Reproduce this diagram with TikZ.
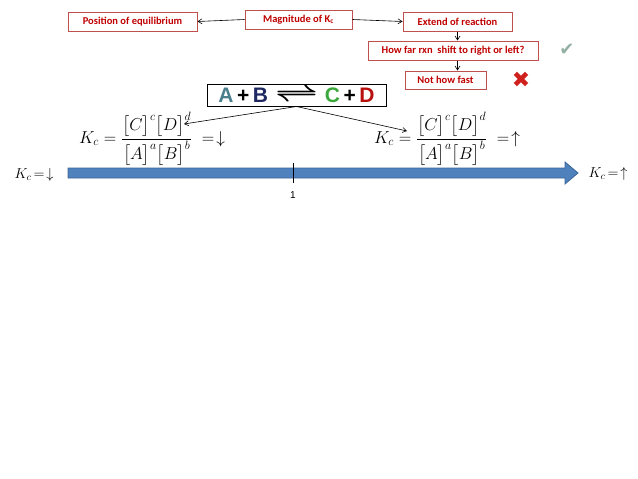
\documentclass[tikz,border=0pt]{standalone}
\usepackage{fontspec}
\usepackage{amsmath}
\usepackage{graphicx}
\usepackage{xcolor}
\usepackage{tikz}
\usetikzlibrary{arrows.meta, positioning, calc}
\newfontfamily\boxfont{Carlito}
\newfontfamily\rxnfont{Liberation Sans}
\newfontfamily\symfont{DejaVu Sans}
\definecolor{boxRed}{HTML}{C0504D}
\definecolor{textRed}{HTML}{C00000}
\definecolor{spA}{HTML}{4A7E8C}
\definecolor{spB}{HTML}{1F2860}
\definecolor{spC}{HTML}{3CA83C}
\definecolor{spD}{HTML}{B80F0F}
\definecolor{axisBlue}{HTML}{4F81BD}
\definecolor{axisEdge}{HTML}{3A6597}
\definecolor{checkGray}{HTML}{93B0A4}
\definecolor{crossRed}{HTML}{D0201E}

\begin{document}
\begin{tikzpicture}[
    x=1pt, y=-1pt,
    infobox/.style={draw=boxRed, line width=1pt, fill=white, minimum height=19pt, inner sep=1pt,
        font=\boxfont\bfseries\fontsize{10.5}{12}\selectfont, text=textRed},
    arrow/.style={-{Straight Barb[length=4pt, width=5pt]}, line width=0.6pt},
    formula/.style={inner sep=0pt, font=\LARGE},
]
    \useasboundingbox (0,0) rectangle (638,479);

    % top row of boxes
    \node[infobox, minimum width=107pt] (mag) at (298.5,19.5) {Magnitude of K\textsubscript{c}};
    \node[infobox, minimum width=129pt] (pos) at (132.5,21.5) {Position of equilibrium};
    \node[infobox, minimum width=109pt] (ext) at (457.5,21.5) {Extend of reaction};
    \node[infobox, minimum width=170pt] (how) at (453,50.5) {How far rxn\ \ shift to right or left?};
    \node[infobox, minimum width=81pt, minimum height=18pt] (nothow) at (445.5,80) {Not how fast};

    \node[font=\symfont\fontsize{18}{18}\selectfont, text=checkGray] (yes) at (567,50) {✔};
    \node[font=\symfont\fontsize{22}{22}\selectfont, text=crossRed] (no) at (521,80) {✖};

    \draw[arrow] (mag.west) -- (pos.east);
    \draw[arrow] (mag.east) -- (ext.west);
    \draw[arrow] (ext.south) -- (ext.south |- how.north);
    \draw[arrow] (ext.south |- how.south) -- (ext.south |- nothow.north);

    % reaction and the two expressions
    \node[draw, line width=1pt, minimum width=179pt, minimum height=22pt, inner sep=0pt,
          font=\rxnfont\bfseries\fontsize{21}{21}\selectfont] (rxn) at (296.5,95)
        {\textcolor{spA}{A}\,+\,\textcolor{spB}{B}\hspace{7pt}\raisebox{1pt}{\scalebox{1.8}[1.25]{$\boldsymbol{\rightleftharpoons}$}}\hspace{7pt}\textcolor{spC}{C}\,+\,\textcolor{spD}{D}};

    \node[formula] (lform) at (152,139)
        {$\displaystyle K_c=\frac{\bigl[C\bigr]^c\bigl[D\bigr]^d}{\bigl[A\bigr]^a\bigl[B\bigr]^b}\;\;{=}\!\downarrow$};
    \node[formula] (rform) at (447,139)
        {$\displaystyle K_c=\frac{\bigl[C\bigr]^c\bigl[D\bigr]^d}{\bigl[A\bigr]^a\bigl[B\bigr]^b}\;\;{=}\!\uparrow$};

    \coordinate (ltip) at (184,124);
    \coordinate (rtip) at (407,131);
    \draw[arrow] (rxn.south) -- (ltip);
    \draw[arrow] (rxn.south) -- (rtip);

    % Kc axis
    \draw[fill=axisBlue, draw=axisEdge, line width=0.8pt]
        (68,168) -- (565,168) -- (565,162) -- (578,173) -- (565,184) -- (565,178) -- (68,178) -- cycle;
    \node[inner sep=0pt] (mid) at (293,173) {};
    \draw[line width=0.8pt] (293,163) -- (293,183);
    \node[font=\rxnfont\fontsize{10}{11}\selectfont, below=14pt of mid] (one) {1};

    \node[font=\Large] (lk) at (34,175) {$K_c\,{=}\!\downarrow$};
    \node[font=\Large] (rk) at (608,174) {$K_c\,{=}\!\uparrow$};
\end{tikzpicture}
\end{document}
